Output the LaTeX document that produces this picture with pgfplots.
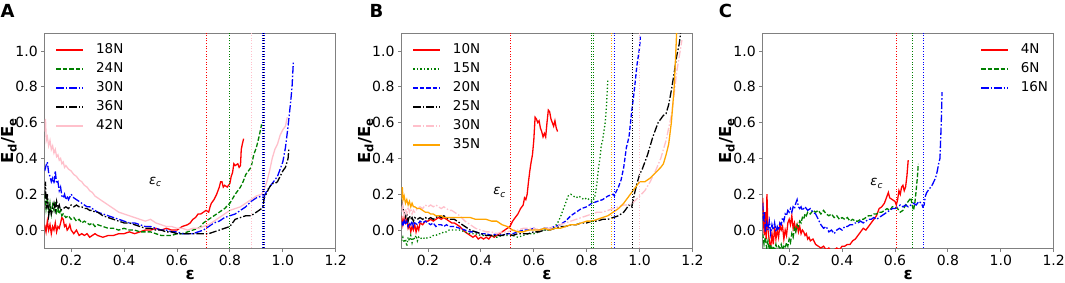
\documentclass[border=0pt]{standalone}
\usepackage{fontspec}
\setmainfont{DejaVu Sans}
\usepackage{pgfplots}
\pgfplotsset{compat=1.18}
\definecolor{mgreen}{rgb}{0,0.5,0}
\definecolor{mpink}{HTML}{FFC0CB}
\definecolor{morange}{HTML}{FFA500}
\definecolor{spine}{gray}{0.5}
\pgfplotsset{legend image code/.code={\draw[#1, line width=1.4pt] (0pt,0pt) -- (27pt,0pt);}}
\pgfplotsset{
  panel/.style={
    scale only axis, width=291pt, height=215pt,
    xmin=0.1, xmax=1.2, ymin=-0.1, ymax=1.1,
    xtick={0.2,0.4,0.6,0.8,1.0,1.2}, ytick={0,0.2,0.4,0.6,0.8,1.0},
    xtick pos=left, ytick pos=left, tick align=outside,
    major tick length=3.5pt,
    axis line style={spine, line width=0.8pt},
    tick style={spine, line width=0.8pt},
    tick label style={font=\fontsize{14}{16}\selectfont},
    yticklabel style={/pgf/number format/.cd, fixed, fixed zerofill, precision=1, assume math mode=true},
    xticklabel style={/pgf/number format/.cd, fixed, fixed zerofill, precision=1, assume math mode=true},
    every axis x label/.style={at={(axis description cs:0.5,-0.124)}, anchor=center, font=\fontsize{16.5}{18}\selectfont},
    every axis y label/.style={at={(axis description cs:-0.122,0.5)}, rotate=90, anchor=center, font=\fontsize{16.5}{18}\selectfont},
    xlabel={\textbf{ε}},
    ylabel={\textbf{E\textsubscript{d}/E\textsubscript{e}}},
    legend cell align=left,
    legend style={draw=none, fill=none, inner sep=0pt, outer sep=0pt,
      row sep=7pt, column sep=12pt, font=\fontsize{13.5}{15}\selectfont,
      nodes={inner sep=0pt, text height=9.5pt, text depth=2.5pt}},
  },
  solidl/.style={line width=1.3pt},
  dashedl/.style={line width=1.3pt, dash pattern=on 4.5pt off 2pt},
  dashdotl/.style={line width=1.3pt, dash pattern=on 7.5pt off 2pt on 1.5pt off 2pt},
  dottedl/.style={line width=1.3pt, dash pattern=on 1.3pt off 2.2pt},
  vline/.style={line width=0.9pt, dash pattern=on 1pt off 1.65pt, forget plot},
}
\newcommand{\epsc}{{\fontsize{13}{15}\selectfont\itshape ε\raisebox{-0.35ex}{\fontsize{9}{10}\selectfont c}}}
\begin{document}
\begin{tikzpicture}
\useasboundingbox (0,0) rectangle (1065pt,282pt);
\node[font=\fontsize{18}{20}\selectfont\bfseries] at (7.5pt,271.5pt) {A};
\node[font=\fontsize{18}{20}\selectfont\bfseries] at (376.5pt,271.5pt) {B};
\node[font=\fontsize{18}{20}\selectfont\bfseries] at (725.5pt,271.5pt) {C};
% ---------------- Panel A ----------------
\begin{axis}[panel, at={(44.7pt,34pt)}, anchor=south west,
  legend style={at={(0.038,0.948)}, anchor=north west}]
\addplot[red, solidl] coordinates {(0.100,0.03)(0.105,-0.01)(0.110,0.05)(0.115,0.00)(0.120,0.03)(0.125,-0.02)(0.130,0.02)(0.135,0.00)(0.140,0.04)(0.145,-0.01)(0.150,0.02)(0.155,0.01)(0.160,0.04)(0.165,0.07)(0.170,0.06)(0.175,0.02)(0.180,0.03)(0.185,0.00)(0.190,0.01)(0.195,0.03)(0.200,0.00)(0.21,-0.02)(0.22,0.00)(0.23,-0.03)(0.24,-0.02)(0.25,-0.03)(0.26,-0.02)(0.27,-0.04)(0.28,-0.03)(0.29,-0.02)(0.30,-0.03)(0.32,-0.04)(0.34,-0.03)(0.36,-0.03)(0.38,-0.02)(0.40,-0.02)(0.42,-0.01)(0.44,-0.02)(0.46,-0.01)(0.48,0.00)(0.50,0.00)(0.52,0.01)(0.54,0.00)(0.56,0.01)(0.58,0.00)(0.60,0.00)(0.62,0.02)(0.64,0.03)(0.65,0.04)(0.66,0.06)(0.67,0.07)(0.68,0.09)(0.69,0.09)(0.70,0.10)(0.71,0.11)(0.72,0.10)(0.725,0.13)(0.73,0.15)(0.74,0.17)(0.75,0.20)(0.76,0.24)(0.765,0.27)(0.77,0.27)(0.775,0.24)(0.78,0.25)(0.79,0.24)(0.80,0.26)(0.805,0.30)(0.81,0.32)(0.815,0.37)(0.82,0.36)(0.83,0.37)(0.835,0.35)(0.84,0.36)(0.843,0.45)(0.847,0.48)(0.852,0.51)};
\addlegendentry{18N}
\addplot[mgreen, dashedl] coordinates {(0.100,0.20)(0.105,0.12)(0.110,0.18)(0.115,0.10)(0.120,0.15)(0.125,0.09)(0.130,0.14)(0.135,0.11)(0.140,0.16)(0.145,0.10)(0.150,0.12)(0.155,0.09)(0.160,0.11)(0.165,0.08)(0.170,0.09)(0.18,0.07)(0.19,0.08)(0.20,0.06)(0.21,0.07)(0.22,0.05)(0.23,0.06)(0.24,0.04)(0.25,0.05)(0.26,0.04)(0.27,0.03)(0.28,0.04)(0.29,0.02)(0.30,0.03)(0.32,0.02)(0.34,0.01)(0.36,0.01)(0.38,0.00)(0.40,0.01)(0.42,0.00)(0.44,0.00)(0.46,-0.01)(0.48,-0.01)(0.50,-0.01)(0.52,-0.02)(0.54,-0.03)(0.56,-0.03)(0.58,-0.03)(0.60,-0.02)(0.62,-0.02)(0.64,-0.01)(0.66,0.00)(0.68,0.01)(0.69,0.02)(0.70,0.04)(0.72,0.06)(0.74,0.08)(0.76,0.10)(0.78,0.12)(0.80,0.15)(0.82,0.20)(0.84,0.24)(0.85,0.27)(0.86,0.31)(0.87,0.33)(0.88,0.35)(0.89,0.42)(0.90,0.46)(0.91,0.52)(0.92,0.59)};
\addlegendentry{24N}
\addplot[blue, dashdotl] coordinates {(0.100,0.33)(0.105,0.36)(0.110,0.38)(0.115,0.32)(0.120,0.30)(0.125,0.27)(0.130,0.29)(0.135,0.26)(0.140,0.33)(0.145,0.26)(0.150,0.27)(0.155,0.22)(0.160,0.24)(0.165,0.19)(0.170,0.18)(0.175,0.20)(0.180,0.17)(0.185,0.19)(0.19,0.17)(0.20,0.20)(0.21,0.18)(0.22,0.17)(0.23,0.16)(0.24,0.15)(0.25,0.14)(0.26,0.13)(0.27,0.13)(0.28,0.12)(0.29,0.11)(0.30,0.10)(0.32,0.09)(0.34,0.08)(0.36,0.07)(0.38,0.06)(0.40,0.05)(0.42,0.04)(0.44,0.04)(0.46,0.03)(0.48,0.02)(0.50,0.02)(0.52,0.01)(0.54,0.00)(0.56,0.00)(0.58,-0.01)(0.60,-0.01)(0.62,-0.02)(0.64,-0.02)(0.66,-0.02)(0.68,-0.01)(0.70,0.00)(0.72,0.02)(0.74,0.04)(0.76,0.05)(0.78,0.07)(0.80,0.08)(0.82,0.09)(0.84,0.11)(0.86,0.13)(0.88,0.16)(0.90,0.18)(0.92,0.19)(0.93,0.19)(0.94,0.22)(0.96,0.26)(0.98,0.30)(0.99,0.34)(1.00,0.38)(1.01,0.46)(1.02,0.58)(1.03,0.72)(1.035,0.80)(1.04,0.94)};
\addlegendentry{30N}
\addplot[black, dashdotl] coordinates {(0.100,0.18)(0.103,0.27)(0.106,0.12)(0.110,0.20)(0.115,0.08)(0.120,0.13)(0.125,0.09)(0.130,0.12)(0.135,0.15)(0.140,0.11)(0.145,0.16)(0.150,0.12)(0.155,0.14)(0.160,0.11)(0.170,0.12)(0.18,0.13)(0.19,0.12)(0.20,0.14)(0.21,0.13)(0.22,0.14)(0.23,0.13)(0.24,0.13)(0.25,0.12)(0.26,0.12)(0.27,0.11)(0.28,0.11)(0.29,0.10)(0.30,0.10)(0.32,0.08)(0.34,0.07)(0.36,0.06)(0.38,0.05)(0.40,0.04)(0.42,0.04)(0.44,0.03)(0.46,0.02)(0.48,0.01)(0.50,0.01)(0.52,0.00)(0.54,0.00)(0.56,-0.01)(0.58,-0.01)(0.60,-0.02)(0.62,-0.02)(0.64,-0.02)(0.66,-0.02)(0.68,-0.02)(0.70,-0.02)(0.72,-0.02)(0.74,-0.01)(0.76,0.00)(0.78,0.01)(0.80,0.02)(0.81,0.04)(0.82,0.06)(0.84,0.07)(0.86,0.08)(0.88,0.08)(0.90,0.10)(0.92,0.12)(0.925,0.13)(0.93,0.18)(0.94,0.21)(0.95,0.24)(0.96,0.26)(0.97,0.26)(0.98,0.27)(0.99,0.30)(1.00,0.33)(1.01,0.35)(1.02,0.40)(1.023,0.46)};
\addlegendentry{36N}
\addplot[mpink, solidl] coordinates {(0.100,0.55)(0.103,0.62)(0.106,0.50)(0.110,0.52)(0.115,0.47)(0.120,0.50)(0.125,0.45)(0.130,0.47)(0.135,0.43)(0.140,0.45)(0.145,0.41)(0.150,0.42)(0.155,0.39)(0.160,0.40)(0.165,0.37)(0.170,0.38)(0.175,0.35)(0.180,0.36)(0.19,0.34)(0.20,0.33)(0.21,0.31)(0.22,0.30)(0.23,0.28)(0.24,0.27)(0.25,0.25)(0.26,0.24)(0.27,0.22)(0.28,0.21)(0.29,0.19)(0.30,0.18)(0.32,0.16)(0.34,0.14)(0.36,0.12)(0.38,0.10)(0.40,0.09)(0.42,0.08)(0.44,0.07)(0.46,0.06)(0.48,0.05)(0.50,0.06)(0.52,0.04)(0.54,0.03)(0.56,0.02)(0.58,0.02)(0.60,0.01)(0.62,0.01)(0.64,0.00)(0.66,0.01)(0.68,0.01)(0.70,0.02)(0.72,0.03)(0.74,0.05)(0.76,0.07)(0.78,0.09)(0.80,0.11)(0.82,0.12)(0.84,0.13)(0.86,0.15)(0.88,0.17)(0.90,0.19)(0.92,0.20)(0.93,0.23)(0.94,0.27)(0.95,0.33)(0.96,0.40)(0.97,0.45)(0.98,0.48)(0.99,0.53)(1.00,0.56)(1.01,0.58)(1.017,0.63)};
\addlegendentry{42N}
\addplot[red, vline] coordinates {(0.713,-0.1) (0.713,1.1)};
\addplot[mgreen, vline] coordinates {(0.800,-0.1) (0.800,1.1)};
\addplot[mpink, vline] coordinates {(0.880,-0.1) (0.880,1.1)};
\addplot[blue, vline] coordinates {(0.922,-0.1) (0.922,1.1)};
\addplot[black, vline] coordinates {(0.926,-0.1) (0.926,1.1)};
\addplot[blue, vline] coordinates {(0.929,-0.1) (0.929,1.1)};
\node at (axis cs:0.517,0.269) {\epsc};
\end{axis}
% ---------------- Panel B ----------------
\begin{axis}[panel, at={(401.5pt,34pt)}, anchor=south west,
  legend style={at={(0.038,0.948)}, anchor=north west}]
\addplot[red, solidl] coordinates {(0.100,0.08)(0.105,0.03)(0.110,0.07)(0.115,0.04)(0.120,0.06)(0.125,0.01)(0.130,0.03)(0.135,-0.01)(0.140,0.02)(0.145,0.00)(0.150,0.03)(0.155,-0.01)(0.160,0.02)(0.165,0.00)(0.170,0.04)(0.18,0.03)(0.19,0.05)(0.20,0.05)(0.21,0.06)(0.22,0.05)(0.23,0.06)(0.24,0.07)(0.25,0.06)(0.26,0.07)(0.27,0.06)(0.28,0.05)(0.29,0.04)(0.30,0.04)(0.32,0.02)(0.34,-0.01)(0.35,-0.02)(0.36,-0.03)(0.37,-0.04)(0.38,-0.03)(0.39,-0.05)(0.40,-0.04)(0.41,-0.05)(0.42,-0.04)(0.43,-0.05)(0.44,-0.03)(0.45,-0.04)(0.46,-0.03)(0.47,-0.02)(0.48,-0.01)(0.49,0.00)(0.50,0.01)(0.51,0.02)(0.52,0.05)(0.53,0.07)(0.54,0.09)(0.55,0.12)(0.56,0.14)(0.565,0.18)(0.57,0.17)(0.575,0.20)(0.58,0.27)(0.585,0.33)(0.59,0.38)(0.595,0.42)(0.60,0.50)(0.605,0.63)(0.61,0.62)(0.615,0.60)(0.62,0.61)(0.625,0.57)(0.63,0.55)(0.635,0.52)(0.64,0.54)(0.645,0.52)(0.65,0.60)(0.655,0.67)(0.66,0.66)(0.665,0.62)(0.67,0.60)(0.675,0.58)(0.68,0.61)(0.685,0.57)(0.69,0.55)};
\addlegendentry{10N}
\addplot[mgreen, dottedl] coordinates {(0.100,-0.06)(0.105,-0.04)(0.110,-0.07)(0.115,-0.05)(0.120,-0.09)(0.125,-0.04)(0.130,-0.06)(0.135,-0.03)(0.140,-0.07)(0.145,-0.04)(0.150,-0.05)(0.155,-0.03)(0.160,-0.06)(0.165,-0.04)(0.170,-0.05)(0.18,-0.04)(0.19,-0.05)(0.20,-0.04)(0.21,-0.04)(0.22,-0.03)(0.23,-0.03)(0.24,-0.02)(0.25,-0.02)(0.26,-0.01)(0.27,-0.01)(0.28,0.00)(0.29,0.00)(0.30,0.00)(0.32,0.00)(0.34,-0.01)(0.36,-0.02)(0.38,-0.02)(0.40,-0.03)(0.42,-0.03)(0.44,-0.03)(0.46,-0.04)(0.48,-0.03)(0.50,-0.03)(0.52,-0.03)(0.54,-0.04)(0.56,-0.03)(0.58,-0.02)(0.60,-0.02)(0.62,-0.01)(0.64,0.00)(0.66,0.00)(0.68,0.02)(0.69,0.04)(0.70,0.07)(0.71,0.11)(0.72,0.15)(0.73,0.19)(0.74,0.20)(0.75,0.19)(0.76,0.18)(0.77,0.19)(0.78,0.18)(0.79,0.17)(0.80,0.18)(0.81,0.17)(0.82,0.16)(0.83,0.18)(0.835,0.22)(0.84,0.28)(0.845,0.35)(0.85,0.40)(0.855,0.47)(0.86,0.50)(0.865,0.55)(0.87,0.60)(0.875,0.70)(0.88,0.84)};
\addlegendentry{15N}
\addplot[blue, dashedl] coordinates {(0.100,0.05)(0.105,0.02)(0.110,0.06)(0.115,0.03)(0.120,0.05)(0.125,0.02)(0.130,0.04)(0.135,0.03)(0.140,0.05)(0.145,0.02)(0.150,0.04)(0.16,0.03)(0.17,0.05)(0.18,0.04)(0.19,0.05)(0.20,0.04)(0.21,0.03)(0.22,0.04)(0.23,0.02)(0.24,0.03)(0.25,0.03)(0.26,0.02)(0.27,0.03)(0.28,0.02)(0.29,0.02)(0.30,0.02)(0.32,0.01)(0.34,0.00)(0.36,-0.01)(0.38,-0.01)(0.40,-0.02)(0.42,-0.02)(0.44,-0.03)(0.46,-0.02)(0.48,-0.03)(0.50,-0.02)(0.52,-0.02)(0.54,-0.01)(0.56,0.00)(0.58,0.00)(0.60,0.01)(0.62,0.00)(0.64,0.01)(0.66,0.01)(0.68,0.02)(0.70,0.03)(0.72,0.05)(0.74,0.08)(0.76,0.10)(0.78,0.12)(0.80,0.13)(0.82,0.15)(0.84,0.16)(0.86,0.17)(0.88,0.19)(0.90,0.20)(0.905,0.19)(0.91,0.21)(0.92,0.24)(0.93,0.28)(0.94,0.35)(0.95,0.46)(0.96,0.52)(0.97,0.66)(0.98,0.78)(0.99,0.92)(1.00,1.02)(1.003,1.08)};
\addlegendentry{20N}
\addplot[black, dashdotl] coordinates {(0.100,0.17)(0.105,0.12)(0.110,0.10)(0.115,0.07)(0.120,0.09)(0.125,0.05)(0.130,0.08)(0.135,0.06)(0.140,0.07)(0.145,0.05)(0.150,0.07)(0.16,0.06)(0.17,0.07)(0.18,0.06)(0.19,0.07)(0.20,0.06)(0.21,0.07)(0.22,0.06)(0.23,0.07)(0.24,0.08)(0.25,0.07)(0.26,0.08)(0.27,0.07)(0.28,0.06)(0.29,0.06)(0.30,0.06)(0.32,0.04)(0.34,0.02)(0.36,0.00)(0.38,-0.01)(0.40,-0.02)(0.42,-0.03)(0.44,-0.03)(0.46,-0.03)(0.48,-0.03)(0.50,-0.02)(0.52,-0.03)(0.54,-0.02)(0.56,-0.02)(0.58,-0.02)(0.60,-0.01)(0.62,-0.01)(0.64,0.00)(0.66,0.00)(0.68,0.01)(0.70,0.02)(0.72,0.02)(0.74,0.03)(0.76,0.03)(0.78,0.04)(0.80,0.04)(0.82,0.05)(0.84,0.05)(0.86,0.06)(0.88,0.06)(0.90,0.07)(0.92,0.08)(0.94,0.10)(0.95,0.12)(0.96,0.14)(0.97,0.13)(0.975,0.16)(0.98,0.20)(0.99,0.26)(1.00,0.31)(1.01,0.34)(1.02,0.38)(1.03,0.42)(1.04,0.47)(1.05,0.52)(1.06,0.56)(1.07,0.60)(1.08,0.62)(1.09,0.64)(1.10,0.65)(1.11,0.70)(1.12,0.78)(1.13,0.87)(1.14,0.97)(1.15,1.04)(1.155,1.10)};
\addlegendentry{25N}
\addplot[mpink, dashdotl] coordinates {(0.100,0.10)(0.105,0.14)(0.110,0.08)(0.115,0.12)(0.120,0.09)(0.125,0.13)(0.130,0.10)(0.135,0.12)(0.140,0.09)(0.145,0.11)(0.150,0.10)(0.16,0.12)(0.17,0.13)(0.18,0.12)(0.19,0.14)(0.20,0.13)(0.21,0.14)(0.22,0.13)(0.23,0.14)(0.24,0.13)(0.25,0.12)(0.26,0.13)(0.27,0.12)(0.28,0.11)(0.29,0.11)(0.30,0.10)(0.32,0.08)(0.34,0.05)(0.36,0.03)(0.38,0.01)(0.40,0.00)(0.42,-0.01)(0.44,-0.01)(0.46,-0.02)(0.48,-0.01)(0.50,-0.01)(0.52,0.00)(0.54,0.00)(0.56,0.01)(0.58,0.01)(0.60,0.01)(0.62,0.00)(0.64,0.01)(0.66,0.01)(0.68,0.02)(0.70,0.03)(0.72,0.04)(0.74,0.05)(0.76,0.06)(0.78,0.07)(0.80,0.08)(0.82,0.09)(0.84,0.10)(0.86,0.10)(0.88,0.11)(0.90,0.12)(0.92,0.13)(0.94,0.14)(0.96,0.14)(0.98,0.16)(1.00,0.19)(1.02,0.22)(1.04,0.27)(1.06,0.33)(1.08,0.40)(1.10,0.50)(1.12,0.64)(1.13,0.75)(1.14,0.88)(1.15,0.97)(1.16,1.06)};
\addlegendentry{30N}
\addplot[morange, solidl] coordinates {(0.100,0.18)(0.103,0.24)(0.106,0.17)(0.110,0.19)(0.115,0.15)(0.120,0.17)(0.125,0.14)(0.130,0.16)(0.135,0.13)(0.140,0.15)(0.145,0.13)(0.150,0.13)(0.16,0.12)(0.17,0.12)(0.18,0.11)(0.19,0.10)(0.20,0.10)(0.21,0.09)(0.22,0.09)(0.23,0.08)(0.24,0.08)(0.25,0.08)(0.26,0.07)(0.27,0.07)(0.28,0.07)(0.29,0.07)(0.30,0.07)(0.32,0.07)(0.34,0.07)(0.36,0.07)(0.38,0.06)(0.40,0.06)(0.42,0.06)(0.44,0.05)(0.46,0.05)(0.48,0.03)(0.50,0.02)(0.52,0.00)(0.54,-0.01)(0.56,-0.01)(0.58,0.00)(0.60,0.00)(0.62,0.00)(0.64,0.01)(0.66,0.00)(0.68,0.01)(0.70,0.01)(0.72,0.02)(0.74,0.03)(0.76,0.03)(0.78,0.04)(0.80,0.05)(0.82,0.05)(0.84,0.06)(0.86,0.07)(0.88,0.08)(0.90,0.10)(0.92,0.12)(0.94,0.15)(0.96,0.19)(0.98,0.23)(1.00,0.27)(1.02,0.27)(1.03,0.28)(1.04,0.29)(1.06,0.32)(1.08,0.35)(1.09,0.37)(1.10,0.42)(1.11,0.48)(1.12,0.60)(1.13,0.78)(1.135,0.93)(1.14,1.10)};
\addlegendentry{35N}
\addplot[red, vline] coordinates {(0.512,-0.1) (0.512,1.1)};
\addplot[mgreen, vline] coordinates {(0.818,-0.1) (0.818,1.1)};
\addplot[mgreen, vline] coordinates {(0.824,-0.1) (0.824,1.1)};
\addplot[morange, vline] coordinates {(0.892,-0.1) (0.892,1.1)};
\addplot[blue, vline] coordinates {(0.905,-0.1) (0.905,1.1)};
\addplot[black, vline] coordinates {(0.973,-0.1) (0.973,1.1)};
\addplot[mpink, vline] coordinates {(1.000,-0.1) (1.000,1.1)};
\node at (axis cs:0.47,0.21) {\epsc};
\end{axis}
% ---------------- Panel C ----------------
\begin{axis}[panel, at={(762.7pt,34pt)}, anchor=south west,
  legend style={at={(0.748,0.948)}, anchor=north west}]
\addplot[red, solidl] coordinates {(0.100,0.18)(0.103,0.05)(0.106,-0.03)(0.110,0.10)(0.113,-0.05)(0.116,0.20)(0.120,0.00)(0.125,-0.06)(0.130,-0.10)(0.135,-0.02)(0.140,-0.08)(0.145,0.02)(0.150,-0.05)(0.155,0.00)(0.160,-0.04)(0.165,0.03)(0.170,0.00)(0.175,0.02)(0.180,-0.05)(0.185,0.00)(0.190,-0.03)(0.195,0.04)(0.200,0.06)(0.205,0.03)(0.210,0.08)(0.215,0.01)(0.220,0.04)(0.225,0.00)(0.230,0.03)(0.235,-0.01)(0.240,0.02)(0.245,-0.02)(0.250,0.00)(0.255,-0.01)(0.26,-0.03)(0.265,-0.02)(0.27,-0.05)(0.275,-0.04)(0.28,-0.06)(0.29,-0.05)(0.30,-0.08)(0.31,-0.09)(0.32,-0.10)(0.33,-0.09)(0.34,-0.11)(0.35,-0.10)(0.36,-0.12)(0.37,-0.11)(0.38,-0.10)(0.39,-0.11)(0.40,-0.09)(0.41,-0.09)(0.42,-0.08)(0.43,-0.08)(0.44,-0.06)(0.45,-0.05)(0.46,-0.03)(0.47,-0.01)(0.48,0.01)(0.49,0.00)(0.50,0.02)(0.51,0.04)(0.52,0.06)(0.53,0.08)(0.54,0.12)(0.55,0.13)(0.56,0.15)(0.57,0.19)(0.575,0.21)(0.58,0.18)(0.59,0.17)(0.60,0.16)(0.605,0.14)(0.61,0.17)(0.615,0.22)(0.62,0.20)(0.625,0.24)(0.63,0.25)(0.635,0.22)(0.64,0.24)(0.645,0.30)(0.65,0.39)};
\addlegendentry{4N}
\addplot[mgreen, dashedl] coordinates {(0.100,-0.02)(0.105,-0.08)(0.110,-0.04)(0.115,-0.10)(0.120,-0.06)(0.125,-0.11)(0.130,-0.08)(0.135,-0.12)(0.140,-0.09)(0.145,-0.11)(0.150,-0.08)(0.155,-0.12)(0.160,-0.09)(0.165,-0.10)(0.170,-0.08)(0.175,-0.11)(0.180,-0.09)(0.185,-0.10)(0.190,-0.07)(0.195,-0.09)(0.200,-0.05)(0.205,-0.07)(0.210,-0.02)(0.215,-0.04)(0.220,0.01)(0.225,-0.01)(0.230,0.03)(0.235,0.02)(0.24,0.05)(0.245,0.04)(0.25,0.07)(0.255,0.06)(0.26,0.09)(0.265,0.08)(0.27,0.10)(0.28,0.09)(0.29,0.11)(0.30,0.10)(0.31,0.11)(0.32,0.09)(0.33,0.11)(0.34,0.09)(0.35,0.08)(0.36,0.09)(0.37,0.07)(0.38,0.08)(0.39,0.06)(0.40,0.07)(0.41,0.06)(0.42,0.07)(0.43,0.05)(0.44,0.06)(0.45,0.05)(0.46,0.05)(0.47,0.06)(0.48,0.06)(0.49,0.07)(0.50,0.08)(0.51,0.08)(0.52,0.09)(0.53,0.09)(0.54,0.10)(0.55,0.10)(0.56,0.11)(0.57,0.12)(0.58,0.11)(0.59,0.13)(0.60,0.13)(0.61,0.12)(0.62,0.10)(0.63,0.11)(0.64,0.14)(0.65,0.16)(0.66,0.18)(0.665,0.14)(0.67,0.11)(0.675,0.15)(0.68,0.22)(0.685,0.30)(0.688,0.37)};
\addlegendentry{6N}
\addplot[blue, dashdotl] coordinates {(0.100,0.15)(0.103,0.05)(0.106,0.10)(0.110,-0.01)(0.115,0.04)(0.120,0.00)(0.125,0.05)(0.130,-0.02)(0.135,0.03)(0.140,0.00)(0.145,0.04)(0.150,-0.01)(0.155,0.02)(0.160,0.00)(0.165,0.04)(0.170,0.03)(0.175,0.07)(0.180,0.05)(0.185,0.09)(0.190,0.08)(0.195,0.11)(0.200,0.10)(0.205,0.12)(0.210,0.10)(0.215,0.13)(0.220,0.12)(0.225,0.15)(0.230,0.17)(0.235,0.13)(0.24,0.12)(0.245,0.13)(0.25,0.11)(0.26,0.13)(0.27,0.11)(0.28,0.12)(0.29,0.10)(0.30,0.09)(0.31,0.06)(0.32,0.03)(0.33,0.01)(0.34,0.02)(0.35,-0.01)(0.36,0.00)(0.37,-0.02)(0.38,0.00)(0.39,0.01)(0.40,0.00)(0.41,0.02)(0.42,0.02)(0.43,0.03)(0.44,0.03)(0.45,0.04)(0.46,0.04)(0.47,0.05)(0.48,0.04)(0.49,0.05)(0.50,0.06)(0.51,0.06)(0.52,0.07)(0.53,0.06)(0.54,0.07)(0.55,0.08)(0.56,0.09)(0.57,0.10)(0.58,0.11)(0.59,0.12)(0.60,0.12)(0.61,0.13)(0.62,0.14)(0.63,0.13)(0.64,0.14)(0.65,0.13)(0.66,0.14)(0.67,0.15)(0.68,0.14)(0.69,0.16)(0.70,0.15)(0.705,0.13)(0.71,0.14)(0.715,0.19)(0.72,0.21)(0.73,0.23)(0.74,0.25)(0.75,0.28)(0.755,0.30)(0.76,0.33)(0.765,0.37)(0.77,0.40)(0.775,0.60)(0.778,0.77)};
\addlegendentry{16N}
\addplot[red, vline] coordinates {(0.607,-0.1) (0.607,1.1)};
\addplot[mgreen, vline] coordinates {(0.667,-0.1) (0.667,1.1)};
\addplot[blue, vline] coordinates {(0.709,-0.1) (0.709,1.1)};
\node at (axis cs:0.53,0.26) {\epsc};
\end{axis}
\end{tikzpicture}
\end{document}
